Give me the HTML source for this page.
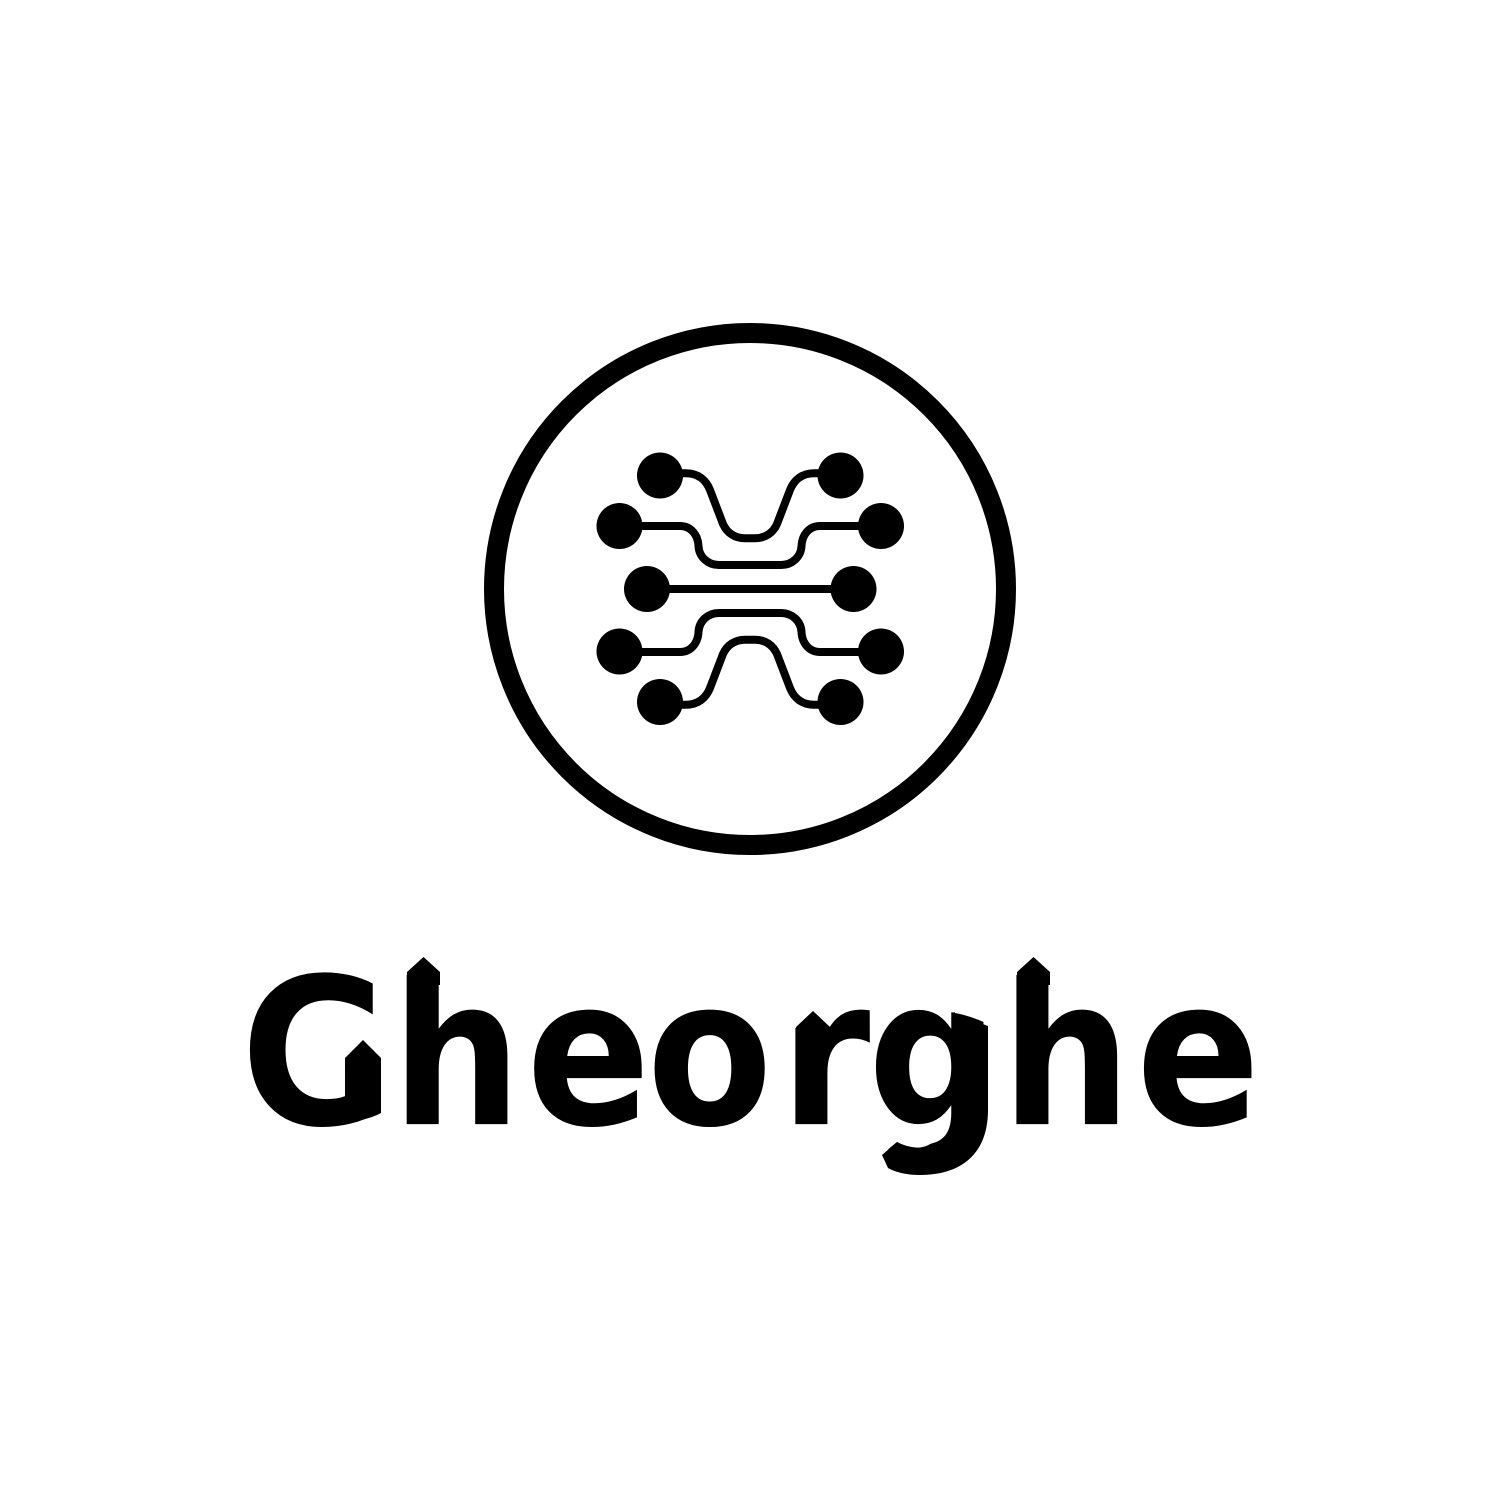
<!DOCTYPE html>
<html lang="en">
<head>
<meta charset="utf-8">
<title>Gheorghe logo</title>
<style>
html,body{margin:0;padding:0;background:#fff;width:1500px;height:1500px;overflow:hidden}
svg{display:block}
</style>
</head>
<body>
<svg width="1500" height="1500" viewBox="0 0 1500 1500" xmlns="http://www.w3.org/2000/svg">
  <rect width="1500" height="1500" fill="#fff"/>
  <circle cx="750" cy="589" r="256" fill="none" stroke="#000" stroke-width="20"/>
  <g fill="none" stroke="#000" stroke-width="8">
    <path d="M660 473.3H686C698 473.3 706 480 710 490L723 524C727 533 735 538.3 745 538.3H755C765 538.3 773 533 777 524L790 490C794 480 802 473.3 814 473.3H840"/>
    <path d="M620 526H680C691 526 698 535 698.5 546C699 557 708 565 719 565H781C792 565 801 557 801.5 546C802 535 809 526 820 526H881"/>
    <path d="M647 589H853"/>
    <path d="M620 652H680C691 652 698 643 698.5 632C699 621 708 613 719 613H781C792 613 801 621 801.5 632C802 643 809 652 820 652H881"/>
    <path d="M660 704.7H686C698 704.7 706 698 710 688L723 654C727 645 735 639.7 745 639.7H755C765 639.7 773 645 777 654L790 688C794 698 802 704.7 814 704.7H840"/>
  </g>
  <g fill="#000">
    <circle cx="660" cy="475.5" r="23"/>
    <circle cx="840.5" cy="475.5" r="23"/>
    <circle cx="619.5" cy="526" r="23"/>
    <circle cx="881" cy="526" r="23"/>
    <circle cx="647" cy="589" r="23"/>
    <circle cx="853.5" cy="589" r="23"/>
    <circle cx="619.5" cy="651.5" r="23"/>
    <circle cx="881" cy="651.5" r="23"/>
    <circle cx="660" cy="702" r="23"/>
    <circle cx="840.5" cy="702" r="23"/>
  </g>
  <text transform="scale(.86 .96)" x="280 455 612 752 907 1009 1164 1321" y="1171" font-family="'DejaVu Sans','Liberation Sans',sans-serif" font-weight="700" font-size="213" fill="#000">Gheorghe</text>
  <g>
    <g fill="#fff">
      <rect x="403" y="950" width="42" height="25"/>
      <rect x="1013" y="950" width="42" height="25"/>
      <rect x="792" y="1003" width="38" height="25"/>
      <rect x="316" y="1032" width="29" height="36"/>
      <rect x="345" y="1032" width="42" height="26"/>
      <path d="M880 1129H945C938 1142 926 1148 915 1148C908 1148 902 1145 897 1142L880 1156Z"/>
      <path d="M955 1006H992V1026C978 1019 966 1015 955 1013Z"/>
    </g>
    <g fill="#000">
      <path d="M407 972L423.500 957L440 972V985H407Z"/>
      <path d="M1017 972L1033.500 957L1050 972V985H1017Z"/>
      <path d="M796 1027L813 1011L830 1027V1040H796Z"/>
      <path d="M345 1058L363 1040L381 1058V1113C372 1118 360 1121 345 1122Z"/>
      <path d="M980 1023L988 1026V1112H980Z"/>
      <path d="M882 1155L897 1142C915 1152 953 1152 955 1115L988 1110C988 1155 960 1175 920 1175C905 1175 895 1172 888 1168Z"/>
    </g>
  </g>
</svg>
</body>
</html>
